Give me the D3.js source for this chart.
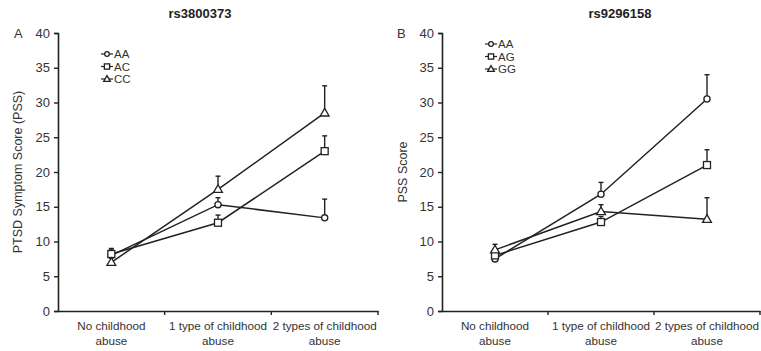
<!DOCTYPE html>
<html>
<head>
<meta charset="utf-8">
<script src="https://cdn.jsdelivr.net/npm/d3@7"></script>
<style>
  body { margin: 0; background: #fff; }
  svg { font-family: "Liberation Sans", Arial, sans-serif; }
</style>
</head>
<body>
<svg id="chart" width="761" height="351"></svg>
<script>
// categories on the x axis (two-line labels)
var categories = ["No childhood abuse", "1 type of childhood abuse", "2 types of childhood abuse"];
var catLines = [["No childhood", "abuse"], ["1 type of childhood", "abuse"], ["2 types of childhood", "abuse"]];
var yTicks = [0, 5, 10, 15, 20, 25, 30, 35, 40];
var markerShapes = ["circle", "square", "triangle"];

// panel A : rs3800373
var genotypesA = ["AA", "AC", "CC"];
var meansA_AA = [8.0, 15.3, 13.4];
var meansA_AC = [8.2, 12.7, 23.0];
var meansA_CC = [7.0, 17.5, 28.5];
var errA_AA = [0.8, 1.0, 2.7];
var errA_AC = [0.8, 1.1, 2.2];
var errA_CC = [0.9, 1.9, 3.9];

// panel B : rs9296158
var genotypesB = ["AA", "AG", "GG"];
var meansB_AA = [7.5, 16.8, 30.5];
var meansB_AG = [8.0, 12.8, 21.0];
var meansB_GG = [8.8, 14.3, 13.2];
var errB_AA = [0.8, 1.7, 3.5];
var errB_AG = [0.7, 0.8, 2.2];
var errB_GG = [0.8, 1.0, 3.1];

var svg = d3.select("#chart");
var ink = "#222";

function drawMarker(g, shape, x, y, s) {
    s = s || 1;
    if (shape == "circle") {
        g.append("circle").attr("cx", x).attr("cy", y).attr("r", 3.1 * s)
            .attr("fill", "#fff").attr("stroke", ink).attr("stroke-width", 1.3);
    } else if (shape == "square") {
        g.append("rect").attr("x", x - 3.5 * s).attr("y", y - 3.5 * s).attr("width", 7 * s).attr("height", 7 * s)
            .attr("fill", "#fff").attr("stroke", ink).attr("stroke-width", 1.3);
    } else {
        g.append("path").attr("d", d3.symbol(d3.symbolTriangle, 34 * s * s)())
            .attr("transform", "translate(" + x + "," + (y + 0.5) + ")")
            .attr("fill", "#fff").attr("stroke", ink).attr("stroke-width", 1.3);
    }
}

function drawPanel(opt) {
    var g = svg.append("g");
    var x = d3.scaleBand().domain(categories).range([opt.x0, opt.x1]);
    var y = d3.scaleLinear().domain([0, 40]).range([311, 33]);

    // y axis
    var yAxis = g.append("g").attr("transform", "translate(" + opt.x0 + ",0)")
        .call(d3.axisLeft(y).tickValues(yTicks).tickSize(4).tickPadding(4));
    yAxis.select(".domain").attr("stroke", ink).attr("stroke-width", 1.6);
    yAxis.selectAll(".tick line").attr("stroke", ink).attr("stroke-width", 1.4);
    yAxis.selectAll(".tick text").attr("font-size", 13).attr("fill", "#333")
        .attr("font-family", "Liberation Sans, Arial, sans-serif");

    // x axis
    var xAxis = g.append("g").attr("transform", "translate(0,311)")
        .call(d3.axisBottom(x).tickSize(0).tickFormat(""));
    xAxis.select(".domain").attr("stroke", ink).attr("stroke-width", 1.6);
    var bounds = categories.slice(1).map(function(c){ return x(c); }).concat([opt.x1]);
    g.selectAll(".xtick").data(bounds).enter().append("line")
        .attr("x1", function(d){ return d; }).attr("x2", function(d){ return d; })
        .attr("y1", 311).attr("y2", 315).attr("stroke", ink).attr("stroke-width", 1.4);

    categories.forEach(function(c, i) {
        var t = g.append("text").attr("x", x(c) + x.bandwidth() / 2).attr("y", 330)
            .attr("text-anchor", "middle").attr("font-size", 11.7).attr("fill", "#333");
        catLines[i].forEach(function(line, j) {
            t.append("tspan").attr("x", x(c) + x.bandwidth() / 2).attr("dy", j == 0 ? 0 : 14.5).text(line);
        });
    });

    // title, panel letter, y label
    g.append("text").attr("x", opt.titleX).attr("y", 18).attr("text-anchor", "middle")
        .attr("font-size", 13).attr("font-weight", "bold").attr("fill", "#222").text(opt.title);
    g.append("text").attr("x", opt.letterX).attr("y", 38).attr("font-size", 13)
        .attr("fill", "#333").text(opt.letter);
    g.append("text").attr("transform", "translate(" + opt.ylabX + "," + 172 + ") rotate(-90)")
        .attr("text-anchor", "middle").attr("font-size", 12.5).attr("fill", "#333").text(opt.ylabel);

    var cx = function(i){ return x(categories[i]) + x.bandwidth() / 2; };
    var line = d3.line().x(function(d, i){ return cx(i); }).y(function(d){ return y(d); });

    opt.series.forEach(function(s, k) {
        // error bars (upper only)
        s.means.forEach(function(m, i) {
            var top = y(m + s.err[i]);
            g.append("line").attr("x1", cx(i)).attr("x2", cx(i)).attr("y1", y(m)).attr("y2", top)
                .attr("stroke", ink).attr("stroke-width", 1.4);
            g.append("line").attr("x1", cx(i) - 2.5).attr("x2", cx(i) + 2.5).attr("y1", top).attr("y2", top)
                .attr("stroke", ink).attr("stroke-width", 1.4);
        });
        g.append("path").datum(s.means).attr("d", line).attr("fill", "none")
            .attr("stroke", ink).attr("stroke-width", 1.5);
    });
    opt.series.forEach(function(s, k) {
        s.means.forEach(function(m, i) { drawMarker(g, markerShapes[k], cx(i), y(m)); });
    });

    // legend
    opt.series.forEach(function(s, k) {
        var ly = opt.legY + k * 12.5;
        g.append("line").attr("x1", opt.legX - 6).attr("x2", opt.legX + 6).attr("y1", ly).attr("y2", ly)
            .attr("stroke", ink).attr("stroke-width", 1.2);
        drawMarker(g, markerShapes[k], opt.legX, ly, 0.75);
        g.append("text").attr("x", opt.legX + 7).attr("y", ly + 4.1).attr("font-size", 11.5)
            .attr("fill", "#333").text(s.name);
    });
}

drawPanel({
    x0: 58, x1: 378, title: "rs3800373", titleX: 200, letter: "A", letterX: 14,
    ylabel: "PTSD Symptom Score (PSS)", ylabX: 22, legX: 107, legY: 54,
    series: [
        {name: genotypesA[0], means: meansA_AA, err: errA_AA},
        {name: genotypesA[1], means: meansA_AC, err: errA_AC},
        {name: genotypesA[2], means: meansA_CC, err: errA_CC}
    ]
});

drawPanel({
    x0: 442, x1: 760, title: "rs9296158", titleX: 620, letter: "B", letterX: 397,
    ylabel: "PSS Score", ylabX: 407, legX: 491, legY: 44,
    series: [
        {name: genotypesB[0], means: meansB_AA, err: errB_AA},
        {name: genotypesB[1], means: meansB_AG, err: errB_AG},
        {name: genotypesB[2], means: meansB_GG, err: errB_GG}
    ]
});
</script>
</body>
</html>
